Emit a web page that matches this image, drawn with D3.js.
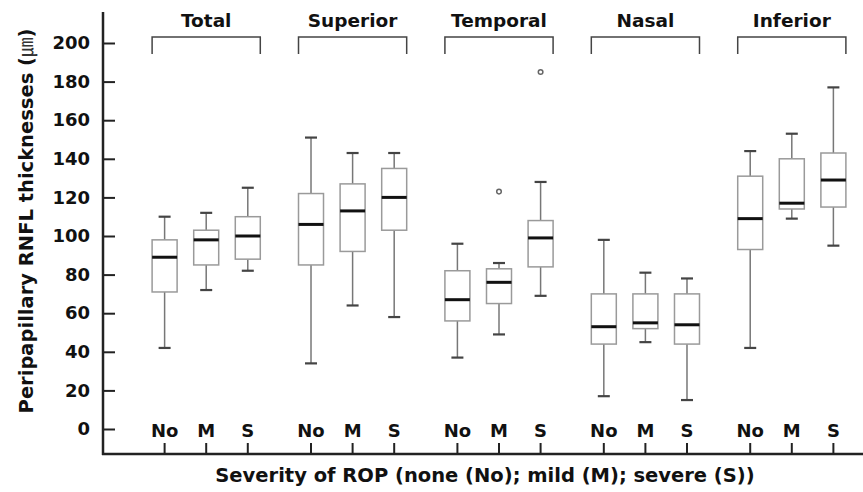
<!DOCTYPE html>
<html lang="en">
<head>
    <meta charset="UTF-8">
    <title>Peripapillary RNFL thickness by ROP severity</title>
    <script src="https://cdnjs.cloudflare.com/ajax/libs/d3/7.8.5/d3.min.js"></script>
    <style>
        body { margin: 0; background: #fff; }
        svg { display: block; font-family: "DejaVu Sans", sans-serif; }
        .bold { font-weight: 700; fill: #111; }
    </style>
</head>
<body>
    <svg width="863" height="492"></svg>

    <script>
        // 資料: groups, severities, five-number summaries
        const groups = ["Total", "Superior", "Temporal", "Nasal", "Inferior"];
        const severities = ["No", "M", "S"];
        const yTicks = [0, 20, 40, 60, 80, 100, 120, 140, 160, 180, 200];

        // [whisker low, box low, median, box high, whisker high], one row per group, No/M/S
        const totalStats    = [[42, 71, 89, 98, 110], [72, 85, 98, 103, 112], [82, 88, 100, 110, 125]];
        const superiorStats = [[34, 85, 106, 122, 151], [64, 92, 113, 127, 143], [58, 103, 120, 135, 143]];
        const temporalStats = [[37, 56, 67, 82, 96], [49, 65, 76, 83, 86], [69, 84, 99, 108, 128]];
        const nasalStats    = [[17, 44, 53, 70, 98], [45, 52, 55, 70, 81], [15, 44, 54, 70, 78]];
        const inferiorStats = [[42, 93, 109, 131, 144], [109, 114, 117, 140, 153], [95, 115, 129, 143, 177]];
        const allStats = [totalStats, superiorStats, temporalStats, nasalStats, inferiorStats];

        // outliers: [group, severity, value]
        const outliers = [["Temporal", "M", 123], ["Temporal", "S", 185]];

        const svg = d3.select("svg");

        const y = d3.scaleLinear().domain([0, 200]).range([429, 43]);
        const gx = d3.scaleBand().domain(groups).range([133, 865]);
        const sx = d3.scalePoint().domain(severities).range([0, gx.bandwidth()]).padding(0.76);
        const xPos = (g, s) => gx(g) + sx(s);
        const boxW = 25;
        const capW = 12;

        const boxes = [];
        groups.forEach((g, gi) => {
            severities.forEach((s, si) => {
                const [lo, q1, med, q3, hi] = allStats[gi][si];
                boxes.push({ g, s, lo, q1, med, q3, hi });
            });
        });

        // y axis
        const yAxis = svg.append("g")
            .attr("transform", "translate(103,0)")
            .call(d3.axisLeft(y).tickValues(yTicks).tickSize(-12).tickPadding(13));
        yAxis.select(".domain").remove();
        yAxis.selectAll(".tick line").attr("stroke", "#222").attr("stroke-width", 2);
        yAxis.selectAll(".tick text")
            .attr("class", "bold")
            .attr("font-size", 18)
            .attr("font-family", "'DejaVu Sans', sans-serif");

        // axis lines
        svg.append("line")
            .attr("x1", 103).attr("x2", 103).attr("y1", 12).attr("y2", 455)
            .attr("stroke", "#222").attr("stroke-width", 2.5);
        svg.append("line")
            .attr("x1", 102).attr("x2", 863).attr("y1", 454).attr("y2", 454)
            .attr("stroke", "#222").attr("stroke-width", 2.5);

        // x ticks + labels
        const xt = svg.append("g").selectAll("g.xt")
            .data(boxes)
            .join("g")
            .attr("transform", d => `translate(${xPos(d.g, d.s)},0)`);
        xt.append("line")
            .attr("y1", 443).attr("y2", 454)
            .attr("stroke", "#222").attr("stroke-width", 2);
        xt.append("text")
            .attr("class", "bold")
            .attr("y", 437)
            .attr("text-anchor", "middle")
            .attr("font-size", 18)
            .text(d => d.s);

        // group brackets and titles
        const gg = svg.append("g").selectAll("g.grp")
            .data(groups)
            .join("g");
        gg.append("path")
            .attr("d", g => {
                const x0 = xPos(g, "No") - boxW / 2, x1 = xPos(g, "S") + boxW / 2;
                return `M${x0},54V37H${x1}V54`;
            })
            .attr("fill", "none").attr("stroke", "#444").attr("stroke-width", 1.5);
        gg.append("text")
            .attr("class", "bold")
            .attr("x", g => gx(g) + gx.bandwidth() / 2)
            .attr("y", 27)
            .attr("text-anchor", "middle")
            .attr("font-size", 18.5)
            .text(g => g);

        // boxplots
        const bp = svg.append("g").selectAll("g.box")
            .data(boxes)
            .join("g")
            .attr("transform", d => `translate(${xPos(d.g, d.s)},0)`);
        bp.append("line")
            .attr("y1", d => y(d.hi)).attr("y2", d => y(d.q3))
            .attr("stroke", "#777").attr("stroke-width", 1.5);
        bp.append("line")
            .attr("y1", d => y(d.q1)).attr("y2", d => y(d.lo))
            .attr("stroke", "#777").attr("stroke-width", 1.5);
        bp.append("line")
            .attr("x1", -capW / 2).attr("x2", capW / 2)
            .attr("y1", d => y(d.hi)).attr("y2", d => y(d.hi))
            .attr("stroke", "#444").attr("stroke-width", 2.2);
        bp.append("line")
            .attr("x1", -capW / 2).attr("x2", capW / 2)
            .attr("y1", d => y(d.lo)).attr("y2", d => y(d.lo))
            .attr("stroke", "#444").attr("stroke-width", 2.2);
        bp.append("rect")
            .attr("x", -boxW / 2).attr("width", boxW)
            .attr("y", d => y(d.q3)).attr("height", d => y(d.q1) - y(d.q3))
            .attr("fill", "#fff").attr("stroke", "#9a9a9a").attr("stroke-width", 1.5);
        bp.append("line")
            .attr("x1", -boxW / 2).attr("x2", boxW / 2)
            .attr("y1", d => y(d.med)).attr("y2", d => y(d.med))
            .attr("stroke", "#111").attr("stroke-width", 3);

        svg.append("g").selectAll("circle")
            .data(outliers)
            .join("circle")
            .attr("cx", d => xPos(d[0], d[1]))
            .attr("cy", d => y(d[2]))
            .attr("r", 2.3)
            .attr("fill", "#fff").attr("stroke", "#666").attr("stroke-width", 1.5);

        // axis titles
        const yt = svg.append("text")
            .attr("class", "bold")
            .attr("transform", "translate(33,221) rotate(-90)")
            .attr("text-anchor", "middle")
            .attr("font-size", 19.5);
        yt.append("tspan").text("Peripapillary RNFL thicknesses (");
        yt.append("tspan")
            .attr("font-weight", 400)
            .attr("font-family", "'Noto Sans CJK KR', sans-serif")
            .attr("fill", "#333")
            .text("㎛");
        yt.append("tspan").text(")");

        svg.append("text")
            .attr("class", "bold")
            .attr("x", 485).attr("y", 482)
            .attr("text-anchor", "middle")
            .attr("font-size", 19.5)
            .text("Severity of ROP (none (No); mild (M); severe (S))");
    </script>
</body>
</html>
